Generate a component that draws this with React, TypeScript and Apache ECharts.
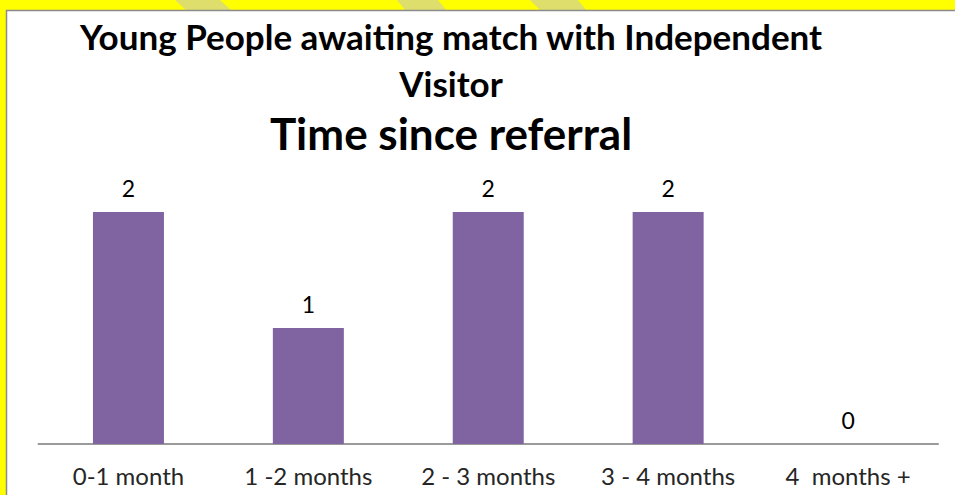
import React, { useEffect, useRef } from "react";
import * as echarts from "echarts";

const categories = ["0-1 month", "1 -2 months", "2 - 3 months", "3 - 4 months", "4  months +"];
const values = [2, 1, 2, 2, 0];
const titleLine1 = "Young People awaiting match with Independent";
const titleLine2 = "Visitor";
const titleLine3 = "Time since referral";

export default function App() {
  const ref = useRef<HTMLDivElement>(null);
  useEffect(() => {
    if (!ref.current) return;
    const chart = echarts.init(ref.current, undefined, { renderer: "svg" });
    const stripe = "#DEDE6C";
    chart.setOption({
      animation: false,
      backgroundColor: "#FFFF00",
      graphic: [
        { type: "polygon", z: -1, silent: true, shape: { points: [[175, 0], [220, 0], [231, 10], [186, 10]] }, style: { fill: stripe } },
        { type: "polygon", z: -1, silent: true, shape: { points: [[397, 0], [438, 0], [446, 10], [405, 10]] }, style: { fill: stripe } },
        { type: "polygon", z: -1, silent: true, shape: { points: [[530, 0], [578, 0], [586, 10], [540, 10]] }, style: { fill: stripe } },
        { type: "rect", z: -1, silent: true, shape: { x: 6.5, y: 10.5, width: 980, height: 520 }, style: { fill: "#FFFFFF", stroke: "#8C8C8C", lineWidth: 1.5 } },
        { type: "text", z: 5, x: 451, y: 53, style: { text: titleLine1, font: "bold 35px Lato", fill: "#000", textAlign: "center", textVerticalAlign: "bottom" } },
        { type: "text", z: 5, x: 451, y: 100, style: { text: titleLine2, font: "bold 35px Lato", fill: "#000", textAlign: "center", textVerticalAlign: "bottom" } },
        { type: "text", z: 5, x: 451, y: 155, style: { text: titleLine3, font: "bold 44px Lato", fill: "#000", textAlign: "center", textVerticalAlign: "bottom" } },
      ],
      grid: { left: 38.5, right: 17, top: 154, bottom: 51 },
      xAxis: {
        type: "category",
        data: categories,
        axisLine: { show: true, lineStyle: { color: "#9A9A9A", width: 2 } },
        axisTick: { show: false },
        axisLabel: { color: "#262626", fontSize: 24, fontFamily: "Lato", margin: 19, interval: 0 },
      },
      yAxis: {
        type: "value",
        min: 0,
        max: 2.5,
        show: false,
        splitLine: { show: false },
      },
      series: [
        {
          type: "bar",
          data: values,
          barWidth: 71,
          itemStyle: { color: "#8064A2" },
          label: { show: true, position: "top", distance: 13, color: "#000", fontSize: 23, fontFamily: "Lato" },
        },
      ],
    });
    return () => chart.dispose();
  }, []);
  return <div ref={ref} style={{ position: "absolute", left: 0, top: 0, width: 955, height: 495 }} />;
}
